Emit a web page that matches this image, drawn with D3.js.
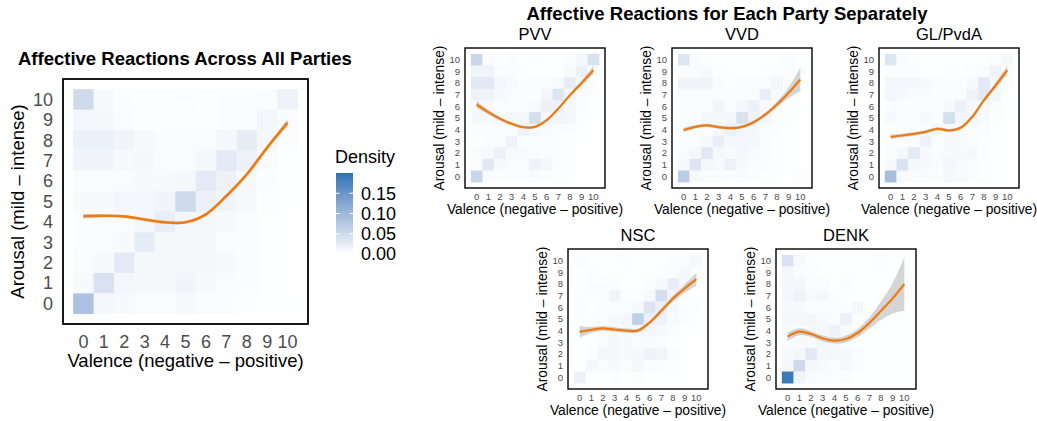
<!DOCTYPE html>
<html>
<head>
<meta charset="utf-8">
<script src="https://cdn.jsdelivr.net/npm/d3@7"></script>
<style>
  body { margin: 0; background: #fff; }
  svg { font-family: "Liberation Sans", Arial, sans-serif; display: block; }
</style>
</head>
<body>
<svg id="chart"></svg>
<script>
// ---- data (densities: rows = arousal 10 .. 0, columns = valence 0 .. 10) ----
var valence = [0, 1, 2, 3, 4, 5, 6, 7, 8, 9, 10];
var arousal = [10, 9, 8, 7, 6, 5, 4, 3, 2, 1, 0];
var tickLabels = ["0", "1", "2", "3", "4", "5", "6", "7", "8", "9", "10"];
var legendTicks = [0, 0.05, 0.10, 0.15];

var allDensity = [
  [0.050, 0.008, 0.004, 0.003, 0.003, 0.004, 0.003, 0.004, 0.004, 0.006, 0.018],
  [0.012, 0.010, 0.006, 0.003, 0.003, 0.003, 0.003, 0.004, 0.006, 0.012, 0.006],
  [0.020, 0.020, 0.014, 0.008, 0.006, 0.005, 0.006, 0.010, 0.025, 0.010, 0.004],
  [0.014, 0.014, 0.008, 0.010, 0.006, 0.006, 0.010, 0.028, 0.018, 0.006, 0.002],
  [0.006, 0.006, 0.006, 0.008, 0.008, 0.010, 0.028, 0.018, 0.008, 0.004, 0.002],
  [0.008, 0.008, 0.012, 0.012, 0.014, 0.050, 0.020, 0.014, 0.008, 0.003, 0.002],
  [0.004, 0.006, 0.006, 0.010, 0.024, 0.012, 0.010, 0.008, 0.006, 0.002, 0.001],
  [0.004, 0.005, 0.008, 0.025, 0.010, 0.010, 0.010, 0.006, 0.004, 0.002, 0.001],
  [0.006, 0.008, 0.028, 0.010, 0.010, 0.010, 0.010, 0.008, 0.004, 0.002, 0.001],
  [0.008, 0.040, 0.012, 0.010, 0.010, 0.014, 0.008, 0.006, 0.004, 0.002, 0.001],
  [0.085, 0.010, 0.008, 0.006, 0.006, 0.008, 0.006, 0.004, 0.003, 0.002, 0.002]
];
var pvvDensity = [
  [0.055, 0.006, 0.003, 0.004, 0.002, 0.003, 0.002, 0.002, 0.004, 0.010, 0.040],
  [0.014, 0.014, 0.006, 0.005, 0.003, 0.002, 0.002, 0.002, 0.008, 0.020, 0.006],
  [0.030, 0.030, 0.012, 0.008, 0.004, 0.004, 0.004, 0.008, 0.025, 0.010, 0.004],
  [0.018, 0.016, 0.008, 0.006, 0.004, 0.004, 0.012, 0.035, 0.014, 0.006, 0.002],
  [0.008, 0.008, 0.006, 0.006, 0.005, 0.008, 0.018, 0.018, 0.010, 0.004, 0.002],
  [0.010, 0.008, 0.010, 0.012, 0.010, 0.045, 0.012, 0.014, 0.012, 0.003, 0.002],
  [0.004, 0.004, 0.004, 0.006, 0.018, 0.010, 0.008, 0.006, 0.004, 0.002, 0.001],
  [0.003, 0.004, 0.006, 0.016, 0.006, 0.006, 0.006, 0.004, 0.003, 0.002, 0.001],
  [0.006, 0.008, 0.020, 0.008, 0.008, 0.006, 0.006, 0.004, 0.003, 0.001, 0.001],
  [0.004, 0.030, 0.008, 0.006, 0.006, 0.016, 0.010, 0.004, 0.003, 0.001, 0.001],
  [0.055, 0.006, 0.004, 0.004, 0.004, 0.006, 0.004, 0.003, 0.002, 0.001, 0.001]
];
var vvdDensity = [
  [0.035, 0.006, 0.003, 0.002, 0.002, 0.002, 0.002, 0.002, 0.002, 0.004, 0.002],
  [0.006, 0.006, 0.008, 0.003, 0.002, 0.002, 0.002, 0.003, 0.004, 0.006, 0.004],
  [0.014, 0.014, 0.014, 0.006, 0.003, 0.004, 0.004, 0.006, 0.012, 0.006, 0.002],
  [0.006, 0.006, 0.006, 0.004, 0.004, 0.004, 0.006, 0.022, 0.008, 0.004, 0.002],
  [0.004, 0.004, 0.006, 0.014, 0.006, 0.012, 0.020, 0.008, 0.006, 0.003, 0.002],
  [0.006, 0.006, 0.012, 0.010, 0.012, 0.040, 0.016, 0.010, 0.006, 0.003, 0.001],
  [0.004, 0.004, 0.006, 0.010, 0.020, 0.012, 0.010, 0.006, 0.004, 0.002, 0.001],
  [0.004, 0.006, 0.008, 0.022, 0.010, 0.012, 0.012, 0.006, 0.003, 0.002, 0.001],
  [0.006, 0.010, 0.030, 0.010, 0.008, 0.012, 0.008, 0.006, 0.003, 0.002, 0.001],
  [0.008, 0.035, 0.012, 0.008, 0.018, 0.008, 0.006, 0.004, 0.003, 0.002, 0.001],
  [0.070, 0.008, 0.006, 0.006, 0.004, 0.006, 0.004, 0.003, 0.002, 0.001, 0.004]
];
var glDensity = [
  [0.035, 0.006, 0.003, 0.002, 0.002, 0.002, 0.002, 0.002, 0.002, 0.003, 0.010],
  [0.004, 0.004, 0.004, 0.002, 0.002, 0.003, 0.002, 0.003, 0.006, 0.016, 0.004],
  [0.012, 0.012, 0.012, 0.008, 0.004, 0.004, 0.004, 0.008, 0.030, 0.010, 0.004],
  [0.010, 0.008, 0.006, 0.006, 0.004, 0.004, 0.006, 0.016, 0.028, 0.010, 0.002],
  [0.004, 0.004, 0.004, 0.004, 0.004, 0.008, 0.020, 0.010, 0.008, 0.004, 0.002],
  [0.008, 0.004, 0.006, 0.008, 0.006, 0.045, 0.012, 0.012, 0.008, 0.003, 0.002],
  [0.002, 0.004, 0.004, 0.006, 0.010, 0.008, 0.006, 0.006, 0.006, 0.002, 0.001],
  [0.004, 0.004, 0.006, 0.016, 0.006, 0.008, 0.008, 0.006, 0.003, 0.002, 0.001],
  [0.004, 0.010, 0.028, 0.008, 0.006, 0.008, 0.008, 0.010, 0.004, 0.002, 0.001],
  [0.008, 0.040, 0.010, 0.008, 0.006, 0.012, 0.008, 0.006, 0.003, 0.002, 0.001],
  [0.090, 0.008, 0.006, 0.006, 0.004, 0.010, 0.008, 0.004, 0.003, 0.002, 0.001]
];
var nscDensity = [
  [0.004, 0.002, 0.002, 0.002, 0.003, 0.002, 0.002, 0.002, 0.004, 0.006, 0.010],
  [0.003, 0.004, 0.002, 0.002, 0.002, 0.002, 0.002, 0.004, 0.006, 0.010, 0.004],
  [0.003, 0.004, 0.006, 0.004, 0.002, 0.002, 0.004, 0.008, 0.025, 0.008, 0.002],
  [0.004, 0.004, 0.004, 0.014, 0.004, 0.004, 0.008, 0.045, 0.014, 0.004, 0.002],
  [0.004, 0.002, 0.004, 0.006, 0.006, 0.008, 0.035, 0.020, 0.010, 0.004, 0.003],
  [0.004, 0.004, 0.006, 0.010, 0.010, 0.065, 0.020, 0.016, 0.008, 0.004, 0.002],
  [0.002, 0.004, 0.004, 0.008, 0.010, 0.010, 0.012, 0.008, 0.006, 0.002, 0.002],
  [0.002, 0.002, 0.006, 0.010, 0.008, 0.006, 0.006, 0.006, 0.002, 0.002, 0.001],
  [0.002, 0.004, 0.012, 0.010, 0.008, 0.010, 0.016, 0.014, 0.006, 0.002, 0.001],
  [0.002, 0.010, 0.006, 0.008, 0.006, 0.010, 0.006, 0.004, 0.003, 0.002, 0.001],
  [0.020, 0.002, 0.002, 0.004, 0.002, 0.004, 0.002, 0.002, 0.002, 0.001, 0.001]
];
var denkDensity = [
  [0.040, 0.008, 0.003, 0.002, 0.002, 0.002, 0.002, 0.002, 0.003, 0.002, 0.004],
  [0.012, 0.006, 0.004, 0.002, 0.002, 0.002, 0.002, 0.002, 0.002, 0.002, 0.002],
  [0.012, 0.012, 0.006, 0.006, 0.002, 0.004, 0.002, 0.002, 0.002, 0.002, 0.002],
  [0.012, 0.016, 0.008, 0.010, 0.004, 0.002, 0.002, 0.002, 0.002, 0.002, 0.002],
  [0.008, 0.008, 0.004, 0.004, 0.004, 0.004, 0.010, 0.002, 0.002, 0.002, 0.002],
  [0.010, 0.010, 0.012, 0.008, 0.006, 0.020, 0.004, 0.002, 0.002, 0.002, 0.002],
  [0.008, 0.008, 0.008, 0.010, 0.018, 0.008, 0.004, 0.002, 0.002, 0.002, 0.002],
  [0.006, 0.008, 0.008, 0.012, 0.010, 0.006, 0.002, 0.002, 0.002, 0.002, 0.002],
  [0.008, 0.010, 0.030, 0.010, 0.012, 0.010, 0.006, 0.002, 0.002, 0.002, 0.002],
  [0.010, 0.050, 0.010, 0.008, 0.006, 0.008, 0.004, 0.002, 0.002, 0.002, 0.002],
  [0.190, 0.015, 0.008, 0.006, 0.004, 0.006, 0.002, 0.002, 0.002, 0.002, 0.002]
];

// loess fit at valence 0..10 and half-width of its band
var allFit  = [4.28, 4.30, 4.27, 4.12, 3.98, 3.98, 4.37, 5.27, 6.33, 7.64, 8.86];
var allSe   = [0.12, 0.08, 0.07, 0.07, 0.07, 0.07, 0.07, 0.07, 0.08, 0.10, 0.18];
var pvvFit  = [6.16, 5.50, 4.93, 4.50, 4.21, 4.24, 4.81, 5.81, 6.96, 8.01, 9.10];
var pvvSe   = [0.30, 0.20, 0.15, 0.13, 0.12, 0.12, 0.12, 0.13, 0.15, 0.20, 0.35];
var vvdFit  = [3.96, 4.24, 4.36, 4.21, 4.13, 4.24, 4.64, 5.30, 6.16, 7.16, 8.30];
var vvdSe   = [0.20, 0.15, 0.14, 0.14, 0.14, 0.14, 0.15, 0.18, 0.25, 0.45, 1.00];
var glFit   = [3.39, 3.50, 3.64, 3.81, 4.07, 3.93, 4.16, 5.10, 6.53, 7.79, 9.10];
var glSe    = [0.20, 0.15, 0.13, 0.13, 0.13, 0.13, 0.13, 0.15, 0.18, 0.25, 0.40];
var nscFit  = [3.90, 4.07, 4.19, 4.10, 4.01, 4.01, 4.70, 5.70, 6.76, 7.61, 8.41];
var nscSe   = [0.50, 0.25, 0.20, 0.20, 0.18, 0.18, 0.18, 0.20, 0.25, 0.35, 0.55];
var denkFit = [3.49, 3.91, 3.71, 3.34, 3.14, 3.29, 3.80, 4.66, 5.71, 6.77, 8.00];
var denkSe  = [0.35, 0.30, 0.25, 0.25, 0.25, 0.30, 0.35, 0.50, 0.80, 1.30, 2.30];

// ---- layout ----
var W = 1037, H = 421;
var big = { tick: 18, title: 18.5, tickGapY: 10, tickOffX: 17.5, titleOffX: 45, titleOffY: 43, border: 1.8, line: 2.6 };
var small = { tick: 9.5, title: 13.8, tickGapY: 5, tickOffX: 8.5, titleOffX: 25.5, titleOffY: 25.5, border: 1.4, line: 2.2 };

var panels = [
    { name: null,      dens: allDensity,  fit: allFit,  se: allSe,  x: 63,  y: 79,  size: 245, st: big },
    { name: "PVV",     dens: pvvDensity,  fit: pvvFit,  se: pvvSe,  x: 465, y: 48,  size: 140, st: small },
    { name: "VVD",     dens: vvdDensity,  fit: vvdFit,  se: vvdSe,  x: 672, y: 48,  size: 140, st: small },
    { name: "GL/PvdA", dens: glDensity,   fit: glFit,   se: glSe,   x: 879, y: 48,  size: 140, st: small },
    { name: "NSC",     dens: nscDensity,  fit: nscFit,  se: nscSe,  x: 568, y: 249, size: 140, st: small },
    { name: "DENK",    dens: denkDensity, fit: denkFit, se: denkSe, x: 776, y: 249, size: 140, st: small }
];

var fill = d3.scaleLinear().domain([0, 0.2]).range(["#ffffff", "#2a74b5"])
        .interpolate(d3.interpolateLab).clamp(true);

var svg = d3.select("#chart").attr("width", W).attr("height", H);

svg.append("text")
        .attr("x", 18).attr("y", 65)
        .attr("font-size", 18.5).attr("font-weight", "bold").attr("fill", "#000")
        .text("Affective Reactions Across All Parties");

svg.append("text")
        .attr("x", 727).attr("y", 20).attr("text-anchor", "middle")
        .attr("font-size", 18.5).attr("font-weight", "bold").attr("fill", "#000")
        .text("Affective Reactions for Each Party Separately");

panels.forEach(function(p, i) {
    var st = p.st;
    var x = d3.scaleLinear().domain([-1, 11]).range([p.x, p.x + p.size]);
    var y = d3.scaleLinear().domain([-1, 11]).range([p.y + p.size, p.y]);
    var g = svg.append("g");

    var clipId = "clip" + i;
    g.append("clipPath").attr("id", clipId)
            .append("rect").attr("x", p.x).attr("y", p.y).attr("width", p.size).attr("height", p.size);

    var cells = [];
    p.dens.forEach(function(row, r) {
        row.forEach(function(v, c) { cells.push({ a: arousal[r], v: valence[c], d: v }); });
    });

    g.append("g").selectAll("rect").data(cells).enter().append("rect")
            .attr("x", function(d) { return x(d.v - 0.5); })
            .attr("y", function(d) { return y(d.a + 0.5); })
            .attr("width", x(0.5) - x(-0.5) + 0.3)
            .attr("height", y(-0.5) - y(0.5) + 0.3)
            .attr("fill", function(d) { return fill(d.d); });

    var pts = valence.map(function(v, k) { return { v: v, f: p.fit[k], s: p.se[k] }; });

    var band = d3.area()
            .x(function(d) { return x(d.v); })
            .y0(function(d) { return y(d.f - d.s); })
            .y1(function(d) { return y(d.f + d.s); })
            .curve(d3.curveCatmullRom.alpha(0.5));
    var line = d3.line()
            .x(function(d) { return x(d.v); })
            .y(function(d) { return y(d.f); })
            .curve(d3.curveCatmullRom.alpha(0.5));

    var inner = g.append("g").attr("clip-path", "url(#" + clipId + ")");
    inner.append("path").datum(pts).attr("d", band)
            .attr("fill", "#999999").attr("fill-opacity", 0.4);
    inner.append("path").datum(pts).attr("d", line)
            .attr("fill", "none").attr("stroke", "#ef7b10").attr("stroke-width", st.line);

    g.append("rect")
            .attr("x", p.x).attr("y", p.y).attr("width", p.size).attr("height", p.size)
            .attr("fill", "none").attr("stroke", "#000").attr("stroke-width", st.border);

    // tick labels
    g.append("g").selectAll("text").data(valence).enter().append("text")
            .attr("x", function(d) { return x(d); })
            .attr("y", p.y + p.size + st.tickOffX)
            .attr("dy", "0.35em").attr("text-anchor", "middle")
            .attr("font-size", st.tick).attr("fill", "#4d4d4d")
            .text(function(d, k) { return tickLabels[k]; });
    g.append("g").selectAll("text").data(valence).enter().append("text")
            .attr("x", p.x - st.tickGapY)
            .attr("y", function(d) { return y(d); })
            .attr("dy", "0.35em").attr("text-anchor", "end")
            .attr("font-size", st.tick).attr("fill", "#4d4d4d")
            .text(function(d, k) { return tickLabels[k]; });

    // axis titles
    g.append("text")
            .attr("x", p.x + p.size / 2).attr("y", p.y + p.size + st.titleOffY)
            .attr("text-anchor", "middle").attr("font-size", st.title).attr("fill", "#000")
            .text("Valence (negative \u2013 positive)");
    g.append("text")
            .attr("transform", "translate(" + (p.x - st.titleOffX) + "," + (p.y + p.size / 2) + ") rotate(-90)")
            .attr("dy", "0.35em")
            .attr("text-anchor", "middle").attr("font-size", st.title).attr("fill", "#000")
            .text("Arousal (mild \u2013 intense)");

    if (p.name) {
        g.append("text")
                .attr("x", p.x + p.size / 2).attr("y", p.y - 8.5)
                .attr("text-anchor", "middle").attr("font-size", 16.5).attr("fill", "#000")
                .text(p.name);
    }
});

// ---- colour legend ----
var lg = svg.append("g");
var barX = 336, barW = 17, barTop = 173, barBot = 254;
var ly = d3.scaleLinear().domain([0, 0.2]).range([barBot, barTop]);

var grad = svg.append("defs").append("linearGradient").attr("id", "dens-grad")
        .attr("x1", 0).attr("y1", 1).attr("x2", 0).attr("y2", 0);
d3.range(0, 1.0001, 0.1).forEach(function(t) {
    grad.append("stop").attr("offset", t).attr("stop-color", fill(t * 0.2));
});

lg.append("text").attr("x", 335).attr("y", 163)
        .attr("font-size", 18).attr("fill", "#000").text("Density");
lg.append("rect").attr("x", barX).attr("y", barTop).attr("width", barW).attr("height", barBot - barTop)
        .attr("fill", "url(#dens-grad)");
lg.selectAll(".tk").data(legendTicks.slice(1)).enter().append("g").each(function(d) {
    var gy = ly(d);
    d3.select(this).append("line").attr("x1", barX).attr("x2", barX + 3.5).attr("y1", gy).attr("y2", gy)
            .attr("stroke", "#fff").attr("stroke-width", 1);
    d3.select(this).append("line").attr("x1", barX + barW - 3.5).attr("x2", barX + barW).attr("y1", gy).attr("y2", gy)
            .attr("stroke", "#fff").attr("stroke-width", 1);
});
lg.selectAll(".lab").data(legendTicks).enter().append("text")
        .attr("x", 361).attr("y", function(d) { return ly(d); })
        .attr("dy", "0.35em").attr("font-size", 18).attr("fill", "#000")
        .text(function(d) { return d3.format(".2f")(d); });
</script>
</body>
</html>
